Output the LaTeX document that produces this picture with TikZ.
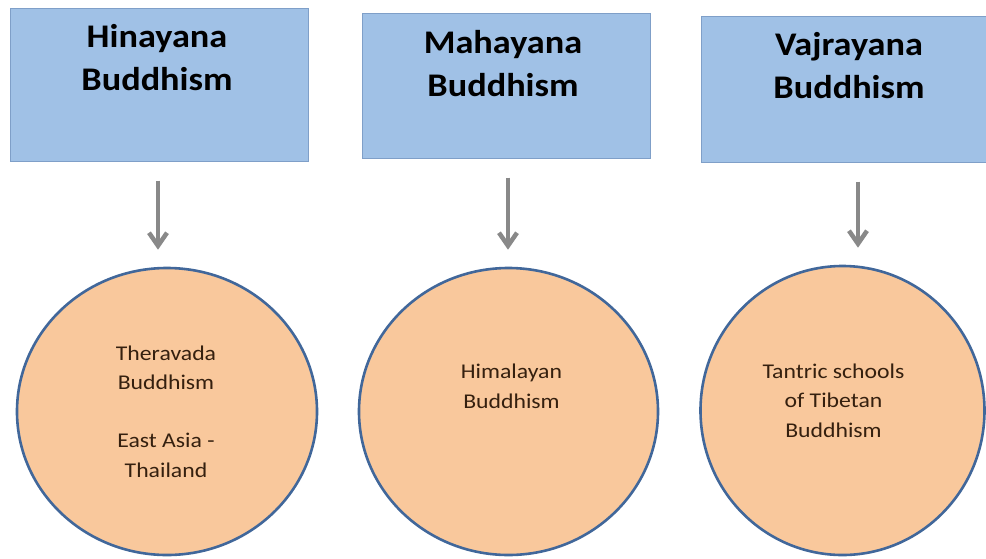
\documentclass[tikz,border=0pt]{standalone}
\usepackage{fontspec}
\setmainfont{Carlito}
\newfontfamily\titlefont{Carlito}[FakeStretch=1.10]
\newfontfamily\ovalfont{Carlito}[FakeStretch=1.13]
\usetikzlibrary{shapes.geometric,arrows.meta,calc}

\definecolor{boxfill}{HTML}{A0C1E6}
\definecolor{boxline}{HTML}{7F9FC8}
\definecolor{ovalfill}{HTML}{F9C89C}
\definecolor{ovalline}{HTML}{41679A}
\definecolor{arrowgray}{HTML}{898989}
\definecolor{ovaltext}{HTML}{35200F}

\tikzset{
  school/.style={draw=boxline, line width=1pt, fill=boxfill, rectangle, inner sep=0pt},
  schooltitle/.style={anchor=base, align=center, inner sep=0pt, text=black,
    font=\titlefont\fontsize{33}{43}\selectfont\bfseries},
  branch/.style={draw=ovalline, line width=2.6pt, fill=ovalfill, ellipse, inner sep=0pt},
  branchtext/.style={anchor=base, align=center, inner sep=0pt, text=ovaltext,
    font=\ovalfont\fontsize{21}{29.5}\selectfont},
  flow/.style={draw=arrowgray, line width=4.5pt,
    -{Straight Barb[length=13pt, width=18pt]},
    shorten <=19pt, shorten >=17pt},
}

\begin{document}
\begin{tikzpicture}[x=1pt, y=-1pt]
  \useasboundingbox (0,0) rectangle (986,558);
  \fill[white] (0,0) rectangle (986,558);

  % top row: the three vehicles
  \node[school, minimum width=298pt, minimum height=153pt] (b1) at (159,84.5) {};
  \node[school, minimum width=288pt, minimum height=145pt] (b2) at (506,85.5) {};
  \node[school, minimum width=296pt, minimum height=146pt] (b3) at (849,89) {};

  % titles are anchored at the baseline of their last line
  \node[schooltitle] (t1) at ([xshift=-2pt, yshift=-83pt]b1.north) {Hinayana\\Buddhism};
  \node[schooltitle] (t2) at ([xshift=-3pt, yshift=-84pt]b2.north) {Mahayana\\Buddhism};
  \node[schooltitle] (t3) at ([yshift=-83pt]b3.north) {Vajrayana\\Buddhism};

  % bottom row: where each is practised
  \node[branch, minimum width=300pt, minimum height=287pt] (c1) at (167,411.5) {};
  \node[branch, minimum width=299pt, minimum height=287pt] (c2) at (508.5,411.5) {};
  \node[branch, minimum width=284pt, minimum height=289pt] (c3) at (842.5,410.5) {};

  \node[branchtext] (l1) at ([xshift=-1pt, yshift=-65.5pt]c1.center)
    {Theravada\\Buddhism\\[28.5pt]East Asia -\\Thailand};
  \node[branchtext] (l2) at ([xshift=3pt, yshift=3.5pt]c2.center)
    {Himalayan\\Buddhism};
  \node[branchtext] (l3) at ([xshift=-9pt, yshift=-26.5pt]c3.center)
    {Tantric schools\\of Tibetan\\Buddhism};

  % connectors
  \draw[flow] ([xshift=-1pt]b1.south) -- ([xshift=-1pt]b1.south |- c1.north);
  \draw[flow] ([xshift=2pt]b2.south) -- ([xshift=2pt]b2.south |- c2.north);
  \draw[flow] ([xshift=9pt]b3.south) -- ([xshift=9pt]b3.south |- c3.north);
\end{tikzpicture}
\end{document}
